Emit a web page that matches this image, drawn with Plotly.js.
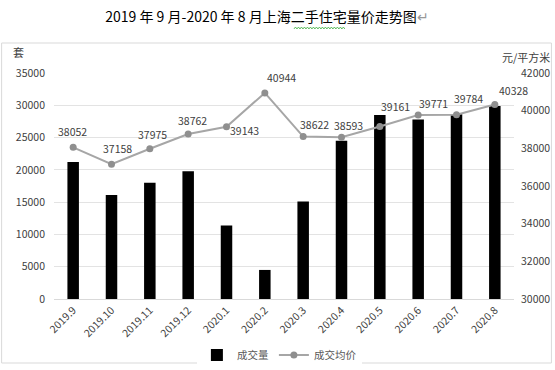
<!DOCTYPE html>
<html>
<head>
<meta charset="utf-8">
<script src="https://cdn.plot.ly/plotly-3.0.1.min.js"></script>
<style>html,body{margin:0;padding:0;background:#fff;}#chart{width:555px;height:370px;}</style>
</head>
<body>
<div id="chart"></div>
<script>
const months = ["2019.9","2019.10","2019.11","2019.12","2020.1","2020.2","2020.3","2020.4","2020.5","2020.6","2020.7","2020.8"];
const volume = [21200, 16100, 18000, 19800, 11400, 4500, 15100, 24500, 28500, 27800, 28600, 29900];
const price = [38052, 37158, 37975, 38762, 39143, 40944, 38622, 38593, 39161, 39771, 39784, 40328];

// label offsets (style only), in pixels
const labelDx = [-1, 6, 3, 4, 18, 17, 11, 7, 16, 15, 12, 19];
const labelDy = [15.5, 15.5, 14, 13, -4, 15, 12, 12, 20, 11, 16, 14];

const fontFam = '"Noto Sans CJK SC", "Noto Sans", sans-serif';

const traces = [
  {
    type: 'bar', name: '成交量', x: months, y: volume,
    marker: {color: '#000000'}, yaxis: 'y',
    hoverinfo: 'skip'
  },
  {
    type: 'scatter', mode: 'lines+markers', name: '成交均价', x: months, y: price,
    yaxis: 'y2', line: {color: '#a6a6a6', width: 2},
    marker: {color: '#8f8f8f', size: 7},
    cliponaxis: false
  }
];

// category index i on the x axis
const priceLabels = price.map((v, i) => ({
  text: String(v), x: i, y: v, xref: 'x', yref: 'y2',
  xshift: labelDx[i], yshift: labelDy[i], showarrow: false,
  xanchor: 'center', yanchor: 'middle',
  font: {size: 10.5, color: '#404040', family: fontFam}
}));

// green spell-check wavy underline beneath "二手住宅"
const px2x = p => (p - 53.5) / 461;
const py2y = p => (299 - p) / 226;
let wave = '';
for (let i = 0, px = 294; px <= 346; px += 1.5, i++) {
  wave += (i === 0 ? 'M' : 'L') + px2x(px).toFixed(4) + ',' + py2y(i % 2 ? 27 : 29).toFixed(4) + ' ';
}

const layout = {
  width: 555, height: 370,
  margin: {l: 53.5, r: 40.5, t: 73, b: 71, autoexpand: false},
  paper_bgcolor: '#fff', plot_bgcolor: '#fff',
  font: {family: fontFam, size: 10.5, color: '#595959'},
  title: {
    text: '2019 年 9 月-2020 年 8 月上海二手住宅量价走势图<span style="color:#999">↵</span>',
    font: {size: 14, color: '#000', family: fontFam},
    x: 0.481, xref: 'container', xanchor: 'center', y: 0.953, yanchor: 'middle', automargin: false
  },
  bargap: 0.7,
  showlegend: true,
  legend: {
    orientation: 'h', x: 0.49, xanchor: 'center', y: -0.248, yanchor: 'middle',
    font: {size: 10.5, color: '#595959'}, itemwidth: 30
  },
  xaxis: {
    type: 'category', range: [-0.5, months.length - 0.5], autorange: false,
    tickangle: -45, showgrid: false, automargin: false,
    showline: true, linecolor: '#d9d9d9', linewidth: 1,
    ticks: '', tickfont: {size: 10.5, color: '#404040'}
  },
  yaxis: {
    range: [0, 35000], dtick: 5000, showgrid: true, gridcolor: '#e3e3e3', automargin: false,
    zeroline: false, showline: false, ticks: '', ticklabelstandoff: 8,
    tickfont: {size: 10.5, color: '#404040'}, tickformat: 'd'
  },
  yaxis2: {
    range: [30000, 42000], dtick: 2000, overlaying: 'y', side: 'right', automargin: false,
    showgrid: false, zeroline: false, showline: false, ticks: '', ticklabelstandoff: 6,
    tickfont: {size: 10.5, color: '#404040'}, tickformat: 'd'
  },
  annotations: [
    {text: '套', xref: 'paper', yref: 'paper', x: px2x(18), y: py2y(52), xanchor: 'center', yanchor: 'middle', showarrow: false, font: {size: 11, color: '#404040'}},
    {text: '元/平方米', xref: 'paper', yref: 'paper', x: px2x(553), y: py2y(57), xanchor: 'right', yanchor: 'middle', showarrow: false, font: {size: 11, color: '#404040'}}
  ].concat(priceLabels),
  shapes: [
    {type: 'rect', xref: 'paper', yref: 'paper', x0: px2x(1), x1: px2x(552), y0: py2y(363), y1: py2y(43), line: {color: '#d9d9d9', width: 1}, fillcolor: 'rgba(0,0,0,0)', layer: 'below'},
    {type: 'path', xref: 'paper', yref: 'paper', path: wave, line: {color: '#3fae3f', width: 0.8}}
  ]
};

Plotly.newPlot('chart', traces, layout, {staticPlot: true, displayModeBar: false});
</script>
</body>
</html>
